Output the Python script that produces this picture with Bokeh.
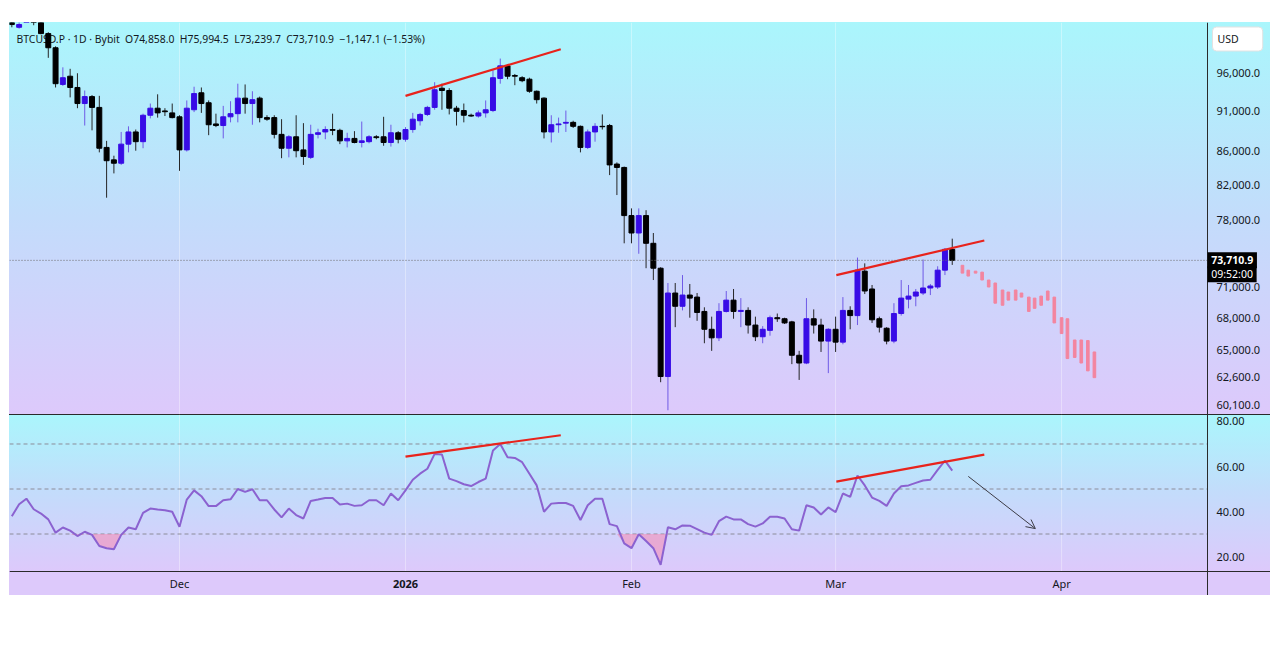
import numpy as np
import pandas as pd
from bokeh.plotting import figure
from bokeh.layouts import column, row
from bokeh.models import (FixedTicker, Range1d, Span, Label, Arrow, OpenHead, Grid, Spacer,
                          ColumnDataSource)
from bokeh.core.properties import value
from bokeh.embed import file_html
from bokeh.resources import INLINE

# ---------------- data ----------------
dates = pd.date_range("2025-11-08", "2026-03-17", freq="D")
ref_date = pd.Timestamp("2025-12-01")

opens = [103200, 102300, 104700, 105900, 103400, 101400, 99400, 94400, 95500, 94000,
         91900, 92800, 91400, 86400, 84900, 84500, 86800, 88300, 87100, 90400,
         91300, 90950, 90700, 90200, 86100, 91100, 93300, 92000, 89300, 89100,
         90200, 90600, 92600, 91900, 92600, 90100, 90100, 88000, 86300, 87700,
         86100, 85200, 88000, 88300, 88600, 88500, 87200, 87500, 87000, 87100,
         87700, 87700, 87000, 88200, 87400, 88600, 89700, 90500, 91400, 93900,
         93600, 91300, 91000, 90400, 90300, 90700, 91000, 95200, 96900, 95600,
         95300, 95100, 93500, 92600, 88300, 89200, 89400, 89500, 89000, 86400,
         88300, 89000, 89100, 84400, 84000, 78500, 76600, 78500, 75500, 72900,
         62600, 70400, 69100, 70200, 70000, 68600, 66900, 66100, 68600, 69700,
         68600, 68700, 67300, 66200, 66800, 68000, 67900, 67600, 64500, 63800,
         67900, 67300, 65800, 66900, 65700, 68700, 68200, 72600, 70800, 67900,
         67000, 65800, 68400, 69800, 70100, 70400, 70900, 71000, 72700, 74858.0]
highs = [103800, 103300, 106500, 107000, 103900, 101600, 99600, 96700, 96500, 95900,
         93600, 93000, 92900, 87200, 85400, 88300, 89000, 88600, 90600, 91900,
         93100, 91300, 91900, 90400, 92300, 94100, 94000, 92300, 90600, 91600,
         92200, 94500, 94400, 93500, 92800, 90400, 90400, 89900, 87900, 90400,
         89400, 89200, 88700, 89000, 90600, 88700, 88200, 88400, 89600, 87900,
         87900, 90200, 89200, 88400, 88900, 90700, 90700, 91600, 94700, 94500,
         93900, 91600, 91900, 90600, 91000, 92300, 96300, 97900, 97100, 95800,
         95500, 95300, 93600, 92700, 90400, 90100, 91000, 89700, 89100, 88600,
         89400, 90500, 89300, 84600, 84100, 79300, 79300, 79100, 76600, 73000,
         71400, 71400, 72200, 71300, 70400, 69000, 68100, 69400, 70600, 70800,
         69900, 69000, 68100, 67200, 68200, 68400, 68000, 67700, 64900, 69900,
         68800, 67900, 67000, 68100, 70000, 69100, 74000, 73400, 71200, 68100,
         67100, 69400, 71700, 71200, 70800, 73800, 71300, 73100, 75000, 75994.5]
lows = [102300, 102100, 104300, 102600, 101300, 98000, 94000, 94200, 92700, 91300,
        89100, 88500, 85800, 80500, 83300, 84300, 85800, 86000, 86300, 90000,
        90100, 90300, 90000, 83600, 85900, 90800, 90700, 87900, 88900, 87500,
        89500, 89500, 90600, 89200, 89500, 89700, 87500, 85100, 85200, 85200,
        84300, 85000, 87500, 87400, 87900, 86800, 86400, 86900, 86400, 86900,
        87400, 86600, 86500, 86900, 87100, 88200, 89100, 90300, 91100, 91100,
        90500, 89100, 89500, 90200, 90100, 90100, 90800, 94500, 95100, 94300,
        94700, 93300, 91900, 87500, 87000, 88200, 88300, 88800, 85800, 86200,
        87100, 88600, 83100, 80800, 75500, 75500, 74400, 72900, 71700, 62100,
        59700, 67100, 68700, 68000, 67700, 65600, 64900, 65800, 68500, 67900,
        67100, 66500, 65800, 65600, 66300, 67600, 67400, 63700, 62300, 63700,
        66500, 64800, 62900, 64800, 65500, 66900, 67300, 70300, 67500, 66600,
        65500, 65600, 68200, 68900, 69100, 70200, 70200, 70800, 72200, 73239.7]
closes = [102700, 102700, 105900, 103400, 101400, 99400, 94500, 95300, 94000, 91900,
          92800, 91400, 86300, 84800, 84500, 86800, 88300, 87100, 90400, 91300,
          90700, 90850, 90100, 86100, 91300, 93200, 91900, 89200, 89100, 90200,
          90600, 92600, 91900, 92400, 90100, 89900, 88000, 86300, 87700, 86000,
          85300, 88000, 88200, 88600, 88500, 87200, 87500, 87000, 87200, 87700,
          87600, 87000, 88200, 87400, 88600, 89900, 90500, 91400, 93700, 93600,
          91300, 90900, 90400, 90300, 90700, 91100, 95300, 96900, 95500, 95500,
          94900, 93500, 92400, 88300, 89200, 89300, 89500, 89000, 86400, 88300,
          89000, 88950, 84300, 84000, 78500, 76600, 78500, 75500, 72900, 62600,
          70400, 69100, 70200, 69900, 68500, 66900, 66100, 68600, 69700, 68600,
          68700, 67300, 66200, 66900, 68000, 67900, 67500, 64500, 63800, 67900,
          67300, 65800, 66900, 65700, 68700, 68200, 72700, 70600, 67800, 67100,
          65800, 68400, 69900, 70100, 70500, 70900, 71100, 72700, 74860, 73710.9]

rsi = [37.9, 43.2, 45.7, 41.0, 39.1, 36.5, 30.6, 32.9, 31.5, 29.1,
       31.0, 29.6, 24.7, 23.7, 23.2, 29.6, 32.9, 32.1, 39.4, 41.3,
       40.9, 40.6, 39.9, 33.2, 45.3, 49.4, 46.8, 42.4, 42.4, 45.0,
       45.4, 50.0, 48.7, 49.9, 45.0, 45.0, 40.9, 37.4, 41.3, 38.4,
       36.9, 44.7, 45.3, 46.0, 46.0, 43.1, 43.5, 42.5, 42.8, 45.0,
       45.0, 42.8, 48.0, 45.0, 49.4, 54.1, 56.8, 59.0, 65.6, 65.3,
       54.6, 53.5, 52.1, 51.3, 53.1, 54.6, 67.1, 70.0, 64.1, 63.8,
       61.9, 56.8, 51.6, 39.9, 43.5, 43.8, 43.8, 42.5, 36.2, 42.8,
       45.7, 45.7, 34.4, 33.5, 25.8, 23.7, 29.9, 26.9, 23.7, 16.3,
       33.0, 32.1, 33.8, 33.7, 32.2, 30.6, 29.6, 35.7, 37.7, 36.5,
       36.5, 34.4, 33.3, 34.7, 37.7, 37.7, 36.9, 32.1, 31.5, 42.8,
       41.8, 38.7, 41.8, 39.7, 48.0, 46.5, 56.0, 51.6, 46.2, 44.7,
       42.5, 48.0, 51.2, 51.6, 52.7, 53.8, 54.1, 58.5, 62.6, 58.2]

# projected bars (days after 2025-12-01), their highs and lows
proj_day = [107.4, 108.2, 109.2, 110.1, 111.0, 111.9, 112.9, 113.7, 114.7, 115.5, 116.5,
            117.3, 118.2, 119.1, 120.0, 121.0, 121.8, 122.8, 123.7, 124.6, 125.5]
proj_high = [73200, 72700, 72600, 72500, 71700, 71400, 70700, 70500, 70700, 70400, 70000,
             69900, 70100, 70600, 70000, 68000, 67900, 65900, 65900, 65850, 64800]
proj_low = [72400, 72100, 72400, 71700, 71000, 69400, 69200, 69700, 69700, 70000, 68600,
            68900, 69200, 69700, 67500, 66500, 64200, 64300, 63800, 63100, 62500]

# trend lines (day, value)
price_tl1_day, price_tl1_val = [31.0, 52.3], [92900, 99200]
price_tl2_day, price_tl2_val = [90.1, 110.4], [72200, 75800]
rsi_tl1_day, rsi_tl1_val = [31.0, 52.3], [64.4, 73.9]
rsi_tl2_day, rsi_tl2_val = [90.1, 110.4], [53.3, 65.3]
arrow_day, arrow_val = [108.2, 117.4], [55.6, 32.4]

last_price = 73710.9
last_price_text = "73,710.9"
countdown_text = "09:52:00"
currency_text = "USD"
price_ticks = [60100, 62600, 65000, 68000, 71000, 78000, 82000, 86000, 91000, 96000]
rsi_ticks = [20, 40, 60, 80]
rsi_levels = [30, 50, 70]
month_ticks = [0, 31, 62, 90, 121]
month_labels = ["Dec", "2026", "Feb", "Mar", "Apr"]
NB = "\u00a0"
title_text = ("BTCUSD.P \u00b7 1D \u00b7 Bybit" + NB * 2 + "O74,858.0" + NB * 2 + "H75,994.5"
              + NB * 2 + "L73,239.7" + NB * 2 + "C73,710.9" + NB * 2 + "\u22121,147.1 (\u22121.53%)")

# ---------------- layout constants ----------------
PX_PER_DAY = 7.29
X_START = -23.32
FIG_W = 1261
X_END = X_START + FIG_W / PX_PER_DAY
AXIS_X = X_START + 1198 / PX_PER_DAY     # price-scale separator
LABEL_X = X_START + 1207 / PX_PER_DAY    # left edge of scale labels
PRICE_LO, PRICE_HI = 59344, 102994
RSI_TOP, RSI_BOTTOM, RSI_LO = 83.11, 13.33, 2.67
XLAB_Y = 8.0

BULL = "#380ce6"
BULL_WICK = "#6f5ae6"
BEAR = "#000000"
BEAR_WICK = "#262626"
FONT = "Noto Sans"
TXT = "#131722"
AX = "#2a2a2a"
RED = "#e8231c"

# ---------------- price panel ----------------
day = np.array((dates - ref_date).days, dtype=float)
o, h, l, c = map(np.array, (opens, highs, lows, closes))
up = c >= o
src = ColumnDataSource(dict(
    x=day, top=np.maximum(o, c), bottom=np.minimum(o, c), high=h, low=l,
    fill=[BULL if u else BEAR for u in up],
    wick=[BULL_WICK if u else BEAR_WICK for u in up],
))

xr = Range1d(X_START, X_END)
p1 = figure(width=FIG_W, height=392, x_range=xr, y_range=Range1d(PRICE_LO, PRICE_HI),
            y_axis_type="log", y_axis_location=None, x_axis_location=None,
            output_backend="svg", toolbar_location=None, min_border=0)
p1.background_fill_alpha = 0
p1.border_fill_alpha = 0
p1.outline_line_color = None
p1.grid.visible = False
p1.add_layout(Grid(dimension=0, ticker=FixedTicker(ticks=month_ticks),
                   grid_line_color="#ffffff", grid_line_alpha=0.35))
p1.styles = {"background": "linear-gradient(to bottom, #aaf6fc 0%, #c3dcfb 50%, #ddc9fb 100%)"}

p1.add_layout(Label(x=7, y=376, x_units="screen", y_units="screen", text=title_text,
                    text_font=FONT, text_font_size="10.4px", text_color=TXT,
                    text_baseline="middle", level="underlay"))

p1.segment(x0="x", y0="low", x1="x", y1="high", color="wick", line_width=1, source=src)
p1.vbar(x="x", width=0.68, top="top", bottom="bottom", fill_color="fill",
        line_color="fill", line_width=1, source=src)

p1.vbar(x=proj_day, width=0.36, top=proj_high, bottom=proj_low,
        fill_color="#f3859f", line_color="#f3859f")

p1.line(price_tl1_day, price_tl1_val, line_color=RED, line_width=2.2)
p1.line(price_tl2_day, price_tl2_val, line_color=RED, line_width=2.2)

p1.segment(x0=[X_START], x1=[AXIS_X], y0=[last_price], y1=[last_price],
           line_color="#6a6a6a", line_dash="1 2", line_width=1)

# price scale
p1.add_layout(Span(location=AXIS_X, dimension="height", line_color=AX, line_width=1))
p1.text(x=[LABEL_X] * len(price_ticks), y=price_ticks,
        text=[f"{t:,.1f}" for t in price_ticks], text_font=value(FONT),
        text_font_size="11px", text_color=TXT, text_baseline="middle", text_align="left")

p1.add_layout(Label(x=1198, x_units="screen", y=last_price, text=NB + last_price_text + NB,
                    text_font=FONT, text_font_size="10.5px", text_font_style="bold",
                    text_color="white", text_baseline="middle",
                    background_fill_color="black", padding=1))
p1.add_layout(Label(x=1198, x_units="screen", y=last_price, y_offset=-14,
                    text=NB + countdown_text + NB,
                    text_font=FONT, text_font_size="10.5px",
                    text_color="white", text_baseline="middle",
                    background_fill_color="black", padding=1))
p1.add_layout(Label(x=1203, y=375.5, x_units="screen", y_units="screen",
                    text=currency_text + NB * 7,
                    text_font=FONT, text_font_size="10.5px", text_color=TXT,
                    text_baseline="middle", background_fill_color="white",
                    border_line_color="#e2e2e2", padding=5, border_radius=4))

# ---------------- RSI panel ----------------
p2 = figure(width=FIG_W, height=181, x_range=xr, y_range=Range1d(RSI_LO, RSI_TOP),
            y_axis_location=None, x_axis_location=None,
            output_backend="svg", toolbar_location=None, min_border=0)
p2.background_fill_alpha = 0
p2.border_fill_alpha = 0
p2.outline_line_color = None
p2.grid.visible = False
p2.styles = {"background": "linear-gradient(to bottom, #aaf6fc 0px, #c3dcfb 78px, #ddc9fb 157px, #ddc9fb 100%)",
             "box-shadow": "inset 0 1px 0 #2a2a2a"}

p2.segment(x0=month_ticks, x1=month_ticks, y0=[RSI_BOTTOM] * len(month_ticks),
           y1=[RSI_TOP] * len(month_ticks), line_color="#ffffff", line_alpha=0.35, line_width=1)
for lv in rsi_levels:
    p2.segment(x0=[X_START], x1=[AXIS_X], y0=[lv], y1=[lv], line_color="#8c8c99",
               line_dash="4 3", line_width=1)

r = np.array(rsi)
p2.varea(x=day, y1=np.minimum(r, 30), y2=30, fill_color="#f58fb9", fill_alpha=0.6)
p2.line(day, r, line_color="#8b62d0", line_width=2)
p2.line(rsi_tl1_day, rsi_tl1_val, line_color=RED, line_width=2.2)
p2.line(rsi_tl2_day, rsi_tl2_val, line_color=RED, line_width=2.2)
p2.add_layout(Arrow(x_start=arrow_day[0], y_start=arrow_val[0], x_end=arrow_day[1], y_end=arrow_val[1],
                    line_color="#3c3c46", line_width=1,
                    end=OpenHead(size=9, line_color="#3c3c46", line_width=1)))

# scales
p2.add_layout(Span(location=AXIS_X, dimension="height", line_color=AX, line_width=1))
p2.add_layout(Span(location=RSI_BOTTOM, dimension="width", line_color=AX, line_width=1))
p2.text(x=[LABEL_X] * len(rsi_ticks), y=rsi_ticks, text=[f"{t:.2f}" for t in rsi_ticks],
        text_font=value(FONT), text_font_size="11px", text_color=TXT,
        text_baseline="middle", text_align="left")
norm_t = [t for t, lab in zip(month_ticks, month_labels) if lab != "2026"]
norm_l = [lab for lab in month_labels if lab != "2026"]
year_t = [t for t, lab in zip(month_ticks, month_labels) if lab == "2026"]
year_l = [lab for lab in month_labels if lab == "2026"]
p2.text(x=norm_t, y=[XLAB_Y] * len(norm_t), text=norm_l, text_font=value(FONT),
        text_font_size="11px", text_color=TXT, text_baseline="middle", text_align="center")
p2.text(x=year_t, y=[XLAB_Y] * len(year_t), text=year_l, text_font=value(FONT),
        text_font_size="11px", text_font_style="bold", text_color=TXT,
        text_baseline="middle", text_align="center")

layout = row(Spacer(width=9, height=10), column(Spacer(width=FIG_W, height=22), p1, p2))
open("out.html", "w").write(file_html(layout, INLINE))
